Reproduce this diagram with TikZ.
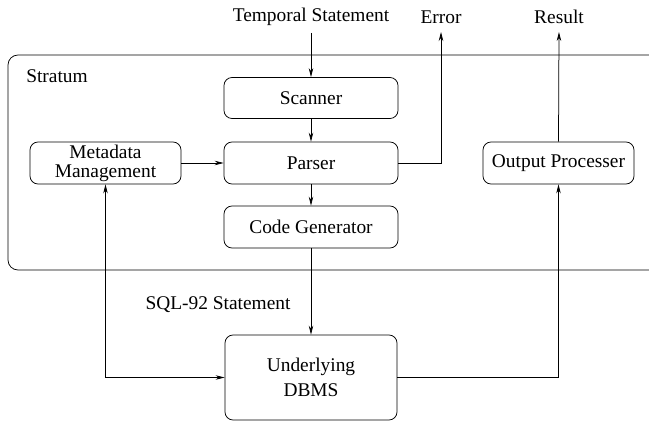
\documentclass[tikz,border=0pt]{standalone}
\usepackage{fontspec}
\setmainfont{Liberation Serif}
\usetikzlibrary{arrows.meta}
\begin{document}
\begin{tikzpicture}[x=1pt,y=-1pt,
  font=\fontsize{19.4}{19}\selectfont,
  line width=0.75pt,
  box/.style={draw,rounded corners=8pt,minimum width=174pt,minimum height=42pt,inner sep=0pt,align=center},
  sidebox/.style={box,minimum width=151pt},
  lbl/.style={inner sep=0pt},
  arr/.style={-{Stealth[length=9pt,width=4.5pt]}},
  biarr/.style={{Stealth[length=9pt,width=4.5pt]}-{Stealth[length=9pt,width=4.5pt]}}]
\useasboundingbox (0,0) rectangle (649,422);
% stratum frame
\draw[rounded corners=10pt] (700,55) -- (8,55) -- (8,270) -- (700,270);
\node[lbl] (stratum) at (57,76) {Stratum};
% labels on top
\node[lbl] (temporal) at (311,17) {Temporal Statement};
\node[lbl] (error) at (441,17) {Error};
\node[lbl] (result) at (559,17) {Result};
\coordinate (tin) at (311,33);
\coordinate (eout) at (441,32);
\coordinate (rout) at (559,32);
% boxes
\node[box,minimum height=41pt] (scanner) at (311,98) {Scanner};
\node[box] (parser) at (311,163) {Parser};
\node[box] (codegen) at (311,227) {Code Generator};
\node[sidebox] (meta) at (105.5,163) {Metadata\\Management};
\node[sidebox] (output) at (558.5,163) {Output Processer};
\node[box,minimum width=172pt,minimum height=85pt,font=\fontsize{19.4}{25}\selectfont] (dbms) at (311,377.5) {Underlying\\DBMS};
\node[lbl] (sql) at (218,305) {SQL-92 Statement};
% connectors
\draw[arr] (tin) -- (scanner.north);
\draw[arr] (scanner) -- (parser);
\draw[arr] (parser) -- (codegen);
\draw[arr] (meta) -- (parser);
\draw[arr] (parser.east) -| (eout);
\draw[arr] (output.north) -- (rout);
\draw[arr] (codegen) -- (dbms);
\draw[biarr] (meta.south) |- (dbms.west);
\draw[arr] (dbms.east) -| (output.south);
\end{tikzpicture}
\end{document}
